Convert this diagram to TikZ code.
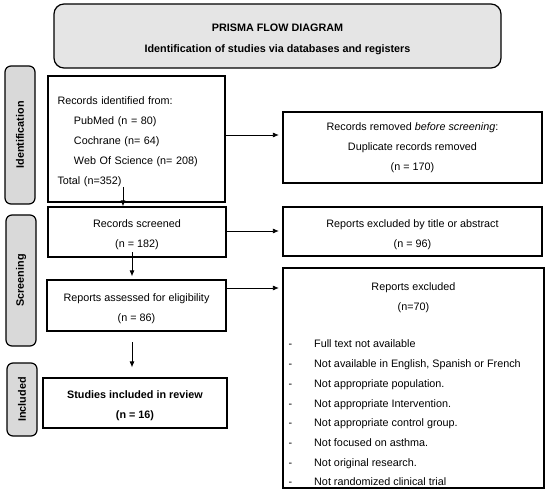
\documentclass[tikz,border=0pt]{standalone}
\usepackage{fontspec}
\setmainfont{Liberation Sans}
\usetikzlibrary{arrows.meta}

\newcommand{\prfont}{\fontsize{10.8}{20}\selectfont}
\newcommand{\topstrut}{\rule{0pt}{13.6pt}}
\newcommand{\itm}[1]{\makebox[25.5pt][l]{-}#1}

\tikzset{
  box/.style={draw, line width=1.2pt, inner sep=0pt, align=center, font=\prfont},
  side/.style={draw, line width=1.2pt, rounded corners=6pt, fill=gray!30, inner sep=0pt,
    rotate=90, minimum height=30pt, font=\prfont\bfseries},
  arr/.style={-{Latex[length=6pt,width=5pt]}, line width=0.8pt}
}

\begin{document}
\begin{tikzpicture}[x=1pt,y=-1pt]
  \useasboundingbox (0,0) rectangle (550,503);
  % title
  \node [box, rounded corners=10pt, fill=gray!20, minimum width=447pt, minimum height=64pt,
    font=\fontsize{10.8}{21}\selectfont\bfseries] (ttl) at (277.5,36)
    {\topstrut PRISMA FLOW DIAGRAM\\Identification of studies via databases and registers};
  % stages
  \node [side, minimum width=138pt] (idside) at (20,135) {Identification};
  \node [side, minimum width=131pt] (scside) at (21,280.5) {Screening};
  \node [side, minimum width=73pt] (inside) at (22,399.5) {Included};
  % left column
  \node [box, minimum width=177pt, minimum height=126pt, align=left, text width=158pt,
    inner xsep=9.5pt] (ident) at (136.5,139)
    {\topstrut Records identified from:\\
     \hspace*{16.5pt}PubMed (n = 80)\\
     \hspace*{16.5pt}Cochrane (n= 64)\\
     \hspace*{16.5pt}Web Of Science (n= 208)\\
     Total (n=352)};
  \node [box, minimum width=178pt, minimum height=50pt] (scr) at (137,232)
    {\topstrut Records screened\\(n = 182)};
  \node [box, minimum width=179pt, minimum height=51pt] (ass) at (136.5,305.5)
    {\topstrut Reports assessed for eligibility\\(n = 86)};
  \node [box, minimum width=184pt, minimum height=50pt, font=\prfont\bfseries] (inc) at (135,403)
    {\topstrut Studies included in review\\(n = 16)};
  % right column
  \node [box, minimum width=259pt, minimum height=71pt] (rem) at (412.5,147.5)
    {Records removed \textit{before screening}:\\Duplicate records removed\\(n = 170)};
  \node [box, minimum width=259pt, minimum height=49pt] (tab) at (412.5,231.5)
    {\topstrut Reports excluded by title or abstract\\(n = 96)};
  \node [box, minimum width=261pt, minimum height=220pt] (exc) at (413.5,378) {};
  \node [align=center, inner sep=0pt, font=\prfont] (exchead) at (413.5,298)
    {Reports excluded\\(n=70)};
  \node [anchor=west, align=left, inner sep=0pt, font=\fontsize{10.8}{19.7}\selectfont] (exclist) at (288.5,413)
    {\itm{Full text not available}\\
     \itm{Not available in English, Spanish or French}\\
     \itm{Not appropriate population.}\\
     \itm{Not appropriate Intervention.}\\
     \itm{Not appropriate control group.}\\
     \itm{Not focused on asthma.}\\
     \itm{Not original research.}\\
     \itm{Not randomized clinical trial}};
  % arrows
  \coordinate (a1) at (123,187);
  \coordinate (a2) at (132,252);
  \coordinate (a3) at (132,342);
  \draw [arr] (a1) -- (a1 |- scr.north);
  \draw [arr, shorten >=3pt] (a2) -- (a2 |- ass.north);
  \draw [arr, shorten >=10pt] (a3) -- (a3 |- inc.north);
  \draw [arr, shorten >=3.5pt] ([yshift=4pt]ident.east) -- ([yshift=4pt]ident.east -| rem.west);
  \draw [arr, shorten >=3.5pt] ([yshift=1pt]scr.east) -- ([yshift=1pt]scr.east -| tab.west);
  \draw [arr, shorten >=3.5pt] ([yshift=17.5pt]ass.east) -- ([yshift=17.5pt]ass.east -| exc.west);
\end{tikzpicture}
\end{document}
